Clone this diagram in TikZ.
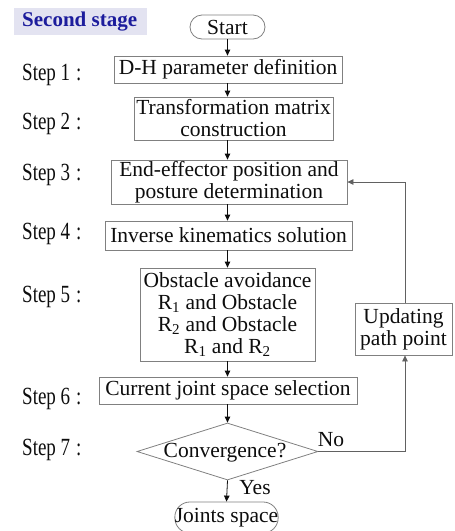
\documentclass[tikz,border=0pt]{standalone}
\usepackage{fontspec}
\setmainfont{Liberation Serif}
\usetikzlibrary{arrows.meta,shapes.geometric}
\definecolor{boxline}{HTML}{808080}
\definecolor{inkc}{HTML}{0D0D0D}
\definecolor{titleblue}{HTML}{1C1C9C}
\definecolor{titlebg}{HTML}{E3E3F1}
% tall, narrow lettering for the step captions
\newcommand{\steptext}[1]{\scalebox{1}[1.3]{#1}}
\begin{document}
\begin{tikzpicture}[x=1pt,y=-1pt,
  every node/.style={font=\fontsize{21.5}{22}\selectfont, text=inkc},
  stepbox/.style={draw=boxline, line width=0.8pt, rectangle, align=center, inner sep=0pt},
  stadium/.style={stepbox, rounded corners=#1},
  steplabel/.style={anchor=base west, inner sep=0pt, font=\fontsize{19}{22}\selectfont},
  flow/.style={draw=inkc, line width=0.8pt, -{Triangle[length=6pt,width=5.5pt]}},
  loopline/.style={draw=black!62, line width=0.8pt, -{Triangle[length=6pt,width=5.5pt]}},
]
\useasboundingbox (0,0) rectangle (455,531);

% heading
\fill[titlebg] (14,8) rectangle (147,35);
\node[anchor=base west, inner sep=0pt, text=titleblue, font=\fontsize{21}{22}\selectfont\bfseries] (title) at (22,26.5) {Second stage};

% main column
\node[stadium=12pt, minimum width=75pt, minimum height=24pt] (start) at (227.5,27) {Start};
\node[stepbox, minimum width=228pt, minimum height=27pt] (s1) at (228,69.5) {D-H parameter definition};
\node[stepbox, minimum width=199pt, minimum height=43pt] (s2) at (233.5,118.5) {Transformation matrix\\construction};
\node[stepbox, minimum width=236pt, minimum height=44pt] (s3) at (229,182) {End-effector position and\\posture determination};
\node[stepbox, minimum width=247pt, minimum height=29pt] (s4) at (228.5,235.5) {Inverse kinematics solution};
\node[stepbox, minimum width=175pt, minimum height=93pt] (s5) at (227.5,314.5) {Obstacle avoidance\\R\textsubscript{1} and Obstacle\\R\textsubscript{2} and Obstacle\\R\textsubscript{1} and R\textsubscript{2}};
\node[stepbox, minimum width=258pt, minimum height=27pt] (s6) at (228,390.5) {Current joint space selection};
\node[diamond, draw=boxline, line width=0.8pt, inner sep=0pt, minimum width=181pt, minimum height=57pt] (dia) at (227.5,451.5) {};
\node[inner sep=0pt] (diatext) at (225,453) {Convergence?};
\node[stadium=15pt, minimum width=103pt, minimum height=31pt] (joints) at (226.5,517.5) {Joints space};
\node[stepbox, minimum width=97pt, minimum height=52pt] (upd) at (403.5,329) {Updating\\path point};

% step captions
\node[steplabel] (l1) at (22,80) {\steptext{Step 1\hspace{6pt}:}};
\node[steplabel] (l2) at (22,129) {\steptext{Step 2\hspace{6pt}:}};
\node[steplabel] (l3) at (22,180) {\steptext{Step 3\hspace{6pt}:}};
\node[steplabel] (l4) at (22,239) {\steptext{Step 4\hspace{6pt}:}};
\node[steplabel] (l5) at (22,302) {\steptext{Step 5\hspace{6pt}:}};
\node[steplabel] (l6) at (22,404) {\steptext{Step 6\hspace{6pt}:}};
\node[steplabel] (l7) at (22,455) {\steptext{Step 7\hspace{6pt}:}};

% downward connectors along the column
\coordinate (col) at (227.5,0);
\draw[flow] (start.south) -- (col |- s1.north);
\draw[flow] (col |- s1.south) -- (col |- s2.north);
\draw[flow] (col |- s2.south) -- (col |- s3.north);
\draw[flow] (col |- s3.south) -- (col |- s4.north);
\draw[flow] (col |- s4.south) -- (col |- s5.north);
\draw[flow] (col |- s5.south) -- (col |- s6.north);
\draw[flow] (col |- s6.south) -- (dia.north);
\draw[flow] (dia.south) -- (joints.north);

% feedback loop
\coordinate (loopx) at (405,0);
\draw[loopline] (dia.east) -- (loopx |- dia.east) -- (loopx |- upd.south);
\draw[loopline] (loopx |- upd.north) -- (loopx |- s3.east) -- (s3.east);

% branch labels
\node[inner sep=0pt] (nolab) at (331,440) {No};
\node[inner sep=0pt] (yeslab) at (255,488) {Yes};
\end{tikzpicture}
\end{document}
